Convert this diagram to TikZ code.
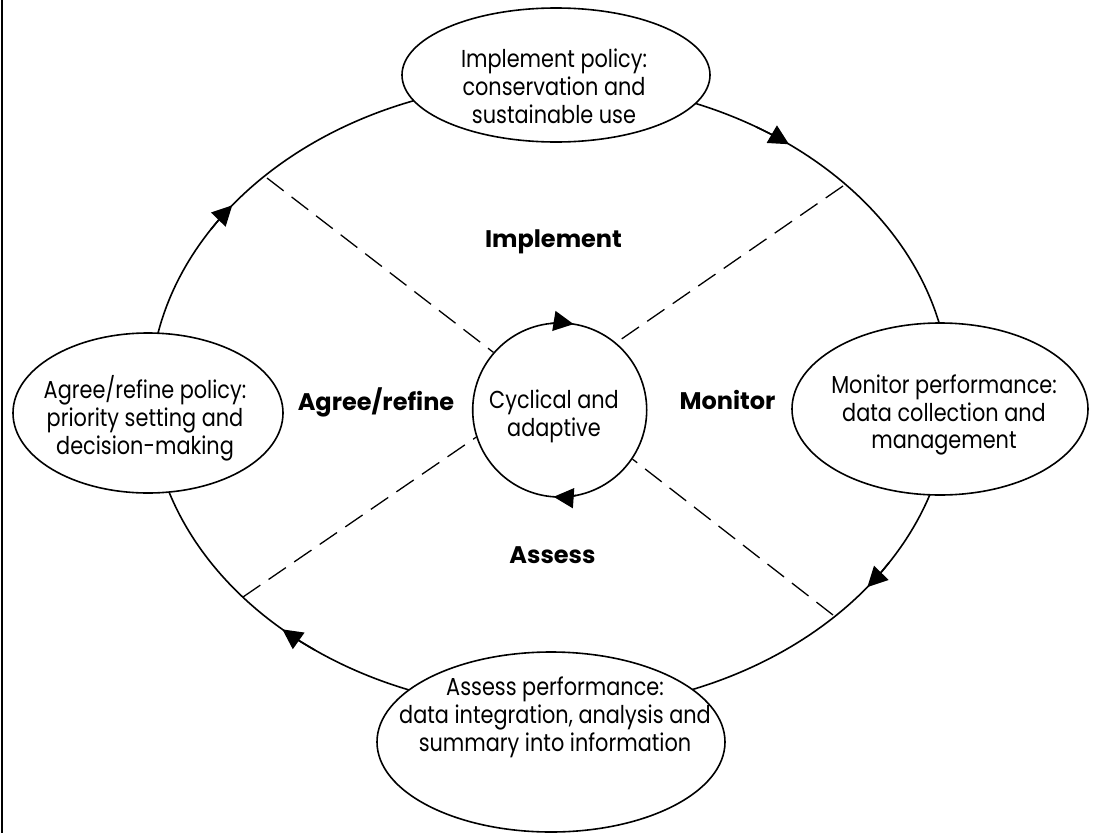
\documentclass[tikz,border=0pt]{standalone}
\usepackage{fontspec}
\setmainfont{Poppins}
\newfontfamily\narrowpop[FakeStretch=0.85]{Poppins}
\usetikzlibrary{arrows.meta,shapes.geometric}
\begin{document}
\begin{tikzpicture}[x=1pt,y=1pt,
  stage/.style={draw, ellipse, line width=1.6pt, fill=white, inner sep=0pt},
  hub/.style={draw, circle, line width=1.6pt, fill=white, inner sep=0pt, minimum size=174pt},
  txt/.style={align=center, inner sep=0pt, font=\narrowpop\fontsize{24.5}{27.8}\selectfont},
  lbl/.style={inner sep=0pt, anchor=base, font=\fontsize{24}{28}\selectfont\bfseries},
  ring/.style={line width=1.6pt},
  ringarrow/.style={line width=1.6pt, -{Triangle[length=20pt,width=20pt]}},
  sep/.style={line width=1.3pt, dash pattern=on 21pt off 10pt}]
\useasboundingbox (0,0) rectangle (1095,-833);
% left frame edge
\coordinate (fa) at (2,0);
\coordinate (fb) at (2,-833);
\draw[line width=1.6pt] (fa) -- (fb);
% cycle ring
\coordinate (bigc) at (550,-396);
\draw[ring] (bigc) ellipse [x radius=400, y radius=314];
% stage ellipses
\node[stage, minimum width=308pt, minimum height=134pt] (impl) at (556,-75) {};
\node[stage, minimum width=296pt, minimum height=172pt] (mon) at (940,-409) {};
\node[stage, minimum width=348pt, minimum height=180pt] (ass) at (551,-742) {};
\node[stage, minimum width=270pt, minimum height=160pt] (agr) at (148,-413) {};
% hub
\node[hub] (c) at (559.7,-410) {};
% separators
\coordinate (tl) at (267,-178);
\coordinate (tr) at (843,-186);
\coordinate (bl) at (243,-597);
\coordinate (br) at (833,-615);
\draw[sep] (tl) -- (c.139.4);
\draw[sep] (tr) -- (c.50.7);
\draw[sep] (bl) -- (c.198.3);
\draw[sep] (br) -- (c.-34);
% arrows on ring (clockwise)
\draw[ringarrow] ([shift={(148:400 and 314)}]bigc) arc[start angle=148, end angle=142.6, x radius=400, y radius=314];
\draw[ringarrow] ([shift={(59:400 and 314)}]bigc) arc[start angle=59, end angle=53.3, x radius=400, y radius=314];
\draw[ringarrow] ([shift={(-32:400 and 314)}]bigc) arc[start angle=-32, end angle=-37.5, x radius=400, y radius=314];
\draw[ringarrow] ([shift={(-126:400 and 314)}]bigc) arc[start angle=-126, end angle=-132, x radius=400, y radius=314];
% arrows on hub
\draw[ringarrow] ([shift={(96:87)}]c.center) arc[start angle=96, end angle=80.8, radius=87];
\draw[ringarrow] ([shift={(281:87)}]c.center) arc[start angle=281, end angle=266, radius=87];
% texts
\node[txt] (impltxt) at (554,-86) {Implement policy:\\conservation and\\sustainable use};
\node[txt] (montxt) at (944,-415) {Monitor performance:\\data collection and\\management};
\node[txt] (asstxt) at (555,-717) {Assess performance:\\data integration, analysis and\\summary into information};
\node[txt] (agrtxt) at (145,-418) {Agree/refine policy:\\priority setting and\\decision-making};
\node[txt] (ctxt) at (554,-416) {Cyclical and\\adaptive};
% phase labels
\node[lbl] (limpl) at (553.5,-247) {Implement};
\node[lbl] (lagr) at (376,-410) {Agree/refine};
\node[lbl] (lmon) at (727.5,-409) {Monitor};
\node[lbl] (lass) at (552.5,-563) {Assess};
\end{tikzpicture}
\end{document}
